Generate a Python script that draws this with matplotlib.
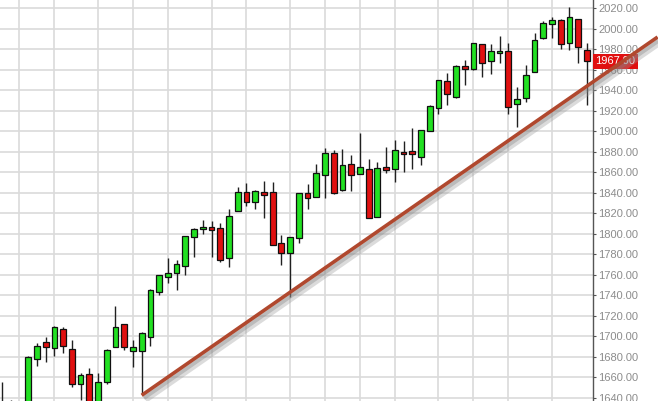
import matplotlib
matplotlib.use("Agg")
import matplotlib.pyplot as plt
import matplotlib.patheffects as pe
import numpy as np

# daily candles, left to right
opens = [1628, 1632, 1620, 1632, 1678, 1694.5, 1689, 1707, 1688, 1654,
         1663, 1630, 1655, 1690, 1712, 1686, 1686, 1699, 1743, 1758,
         1762, 1769, 1797, 1805, 1806.5, 1806, 1776, 1822, 1841, 1831,
         1841, 1841, 1791, 1781.5, 1795.5, 1839.5, 1836, 1857, 1878.5, 1842.6,
         1867.7, 1858, 1863, 1816.6, 1865, 1863.4, 1880, 1880.5, 1875, 1900.4,
         1923, 1949, 1933.6, 1963.5, 1960.3, 1984.6, 1968.6, 1976, 1978.4, 1926.4,
         1932, 1958, 1990.5, 2004, 2008.3, 1985.6, 2009, 1979]
highs = [1655, 1638, 1635, 1681, 1693, 1699, 1710, 1709, 1696, 1664,
         1669, 1664.5, 1688, 1730, 1712, 1696, 1704, 1746, 1760, 1776,
         1774, 1798, 1806, 1813, 1812, 1810, 1824, 1846, 1849.7, 1843,
         1851, 1850, 1799, 1797, 1840, 1848, 1868, 1884, 1882, 1883,
         1876.7, 1898, 1873, 1870, 1885, 1891, 1890, 1903, 1901.5, 1925,
         1950, 1956.5, 1964.5, 1969.3, 1986, 1985, 1984.6, 1992.7, 1985.6, 1942.7,
         1964.4, 1995.3, 2007, 2011.5, 2009, 2020.7, 2009.5, 1986]
lows = [1615, 1610, 1605, 1628, 1671, 1675, 1681, 1684, 1651, 1638,
        1625, 1625, 1654, 1690, 1687, 1670, 1644, 1691, 1740, 1752,
        1745, 1760, 1777, 1800, 1777, 1772, 1768, 1822, 1827, 1824,
        1815, 1789, 1769.5, 1738.5, 1791, 1824, 1836, 1834.5, 1838.7, 1842,
        1842, 1858, 1815, 1816, 1859.5, 1850.7, 1860.5, 1863, 1867, 1900,
        1917, 1925.5, 1932, 1945, 1960, 1953, 1955.4, 1966, 1916.7, 1904.3,
        1928, 1958, 1990, 1990.5, 1979.7, 1979, 1966, 1925.5]
closes = [1632, 1620, 1630, 1680, 1691, 1690, 1709, 1691, 1654, 1662,
          1630, 1655, 1687, 1709, 1690, 1690, 1703, 1745, 1759.5, 1761.5,
          1770, 1798, 1805, 1806, 1803.5, 1774, 1817.5, 1841, 1830.6, 1842,
          1838, 1789, 1781, 1796.5, 1839.5, 1834.5, 1859.5, 1878.5, 1839.5, 1866.7,
          1857.2, 1865, 1815, 1864.4, 1862, 1881.6, 1877.5, 1877.5, 1901, 1924.5,
          1950, 1936, 1963.5, 1960.3, 1985.6, 1966.7, 1978, 1978, 1923.8, 1931.3,
          1954.7, 1988.8, 2005, 2008.3, 1984.6, 2011, 1982.3, 1967.9]

week_lines = [2, 6, 11, 15, 19, 24, 28, 33, 37, 41, 45, 50, 54, 58, 63]
price_ticks = list(range(1640, 2021, 20))
last_price = 1967.90

# hand-drawn trend line (candle index, price)
trend_x = [16, 75.1]
trend_y = [1642.5, 1991.7]

fig = plt.figure(figsize=(6.58, 4.01), dpi=100)
ax = fig.add_axes([0, 0, 593 / 658, 1])

ax.set_xlim(-0.23, 67.7)
ax.set_ylim(1636.95, 2027.8)

# grid
for p in price_ticks:
    ax.axhline(p, color="#dadada", lw=1.2, zorder=0)
for k in week_lines:
    ax.axvline(k, color="#dadada", lw=1.2, zorder=0)

# candles
x = np.arange(len(opens))
o = np.array(opens)
c = np.array(closes)
ax.vlines(x, lows, highs, color="#202020", lw=1, zorder=2)
colors = np.where(c >= o, "#22e022", "#e01010")
bottoms = np.minimum(o, c)
heights = np.maximum(np.abs(c - o), 1.2)
ax.bar(x, heights, bottom=bottoms, width=0.66, color=colors,
       edgecolor="#101010", linewidth=0.9, zorder=3)

# trend line with soft shadow
ax.plot(trend_x, trend_y, color="#b0482e", lw=2.6, clip_on=False, zorder=6,
        solid_capstyle="butt",
        path_effects=[pe.SimpleLineShadow(offset=(2.5, -3), shadow_color="#9a9a9a",
                                          alpha=0.35, linewidth=5),
                      pe.SimpleLineShadow(offset=(1.5, -2), shadow_color="#808080",
                                          alpha=0.35, linewidth=3),
                      pe.Normal()])

# axes styling
for s in ["left", "top", "bottom"]:
    ax.spines[s].set_visible(False)
ax.spines["right"].set_color("#555555")
ax.spines["right"].set_linewidth(1)
ax.set_xticks([])
ax.yaxis.tick_right()
ax.set_yticks(price_ticks)
ax.set_yticklabels([f"{p:.2f}" for p in price_ticks])
ax.tick_params(axis="y", length=2, width=0.8, color="#555555", pad=2,
               labelsize=8, labelcolor="#8c8c8c")
for lab in ax.get_yticklabels():
    lab.set_family("Liberation Sans")

# current price tag
ax.text(1.004, last_price, f"{last_price:.2f}", transform=ax.get_yaxis_transform(),
        ha="left", va="center", fontsize=8, color="white", family="Liberation Sans",
        zorder=5, clip_on=False,
        bbox=dict(boxstyle="square,pad=0.25", facecolor="#e01010", edgecolor="none"))

fig.savefig("out.png", dpi=100)
